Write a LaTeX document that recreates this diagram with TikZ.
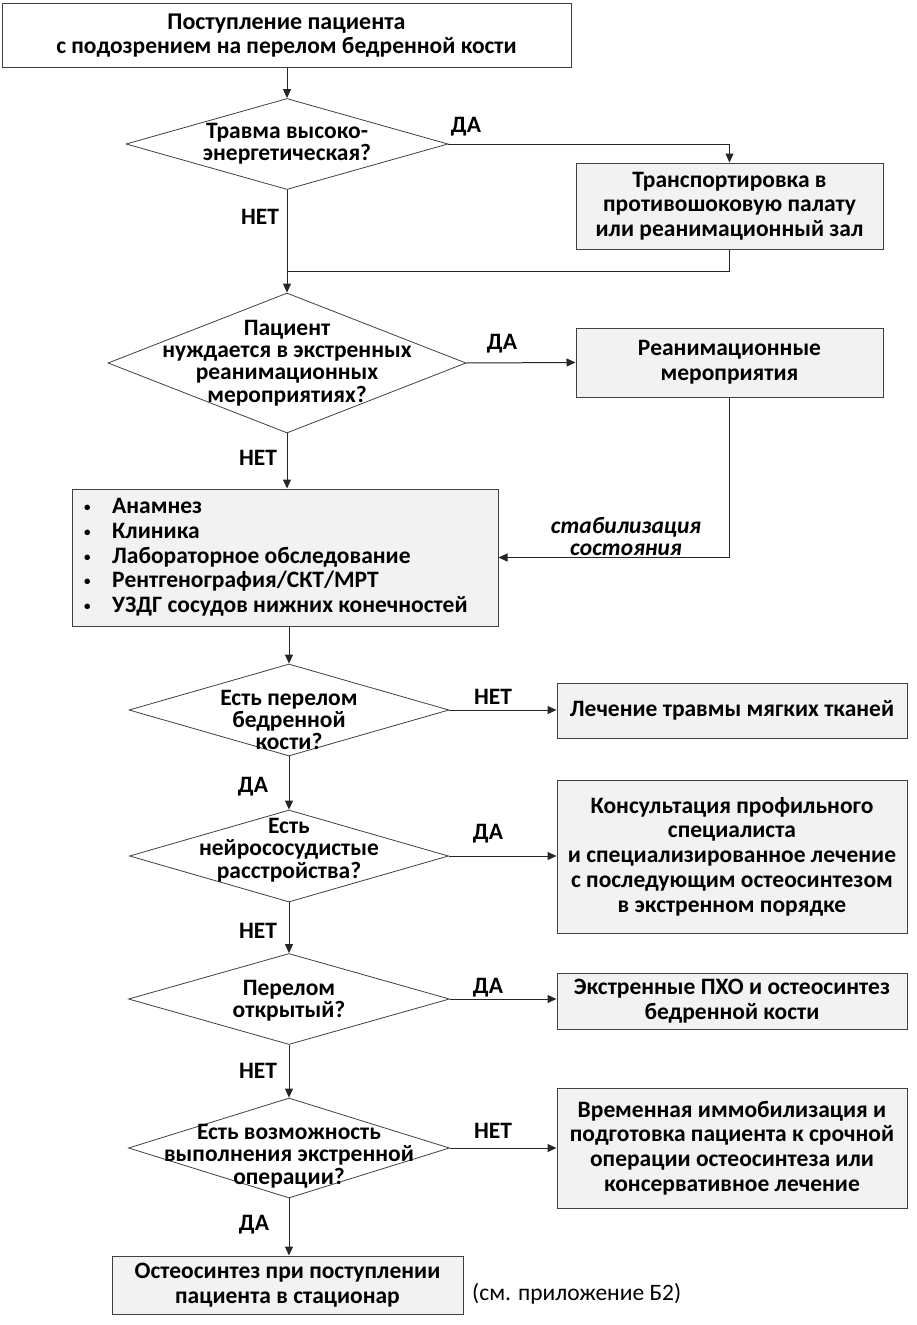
\documentclass[tikz,border=0pt]{standalone}
\usepackage{fontspec}
\setmainfont{Carlito}
\usetikzlibrary{arrows.meta,shapes.geometric}
\definecolor{boxfill}{HTML}{F2F2F2}
\definecolor{boxline}{HTML}{404040}
\tikzset{
  x=1pt, y=-1pt,
  every node/.style={font=\fontsize{23.5}{24.7}\selectfont\bfseries, align=center, inner sep=0pt},
  wbox/.style={draw=boxline, line width=1pt, fill=white, rectangle},
  gbox/.style={draw=boxline, line width=1pt, fill=boxfill, rectangle},
  dia/.style={draw=boxline, line width=0.8pt, diamond, fill=white},
  dtext/.style={font=\fontsize{23.5}{22.3}\selectfont\bfseries},
  lbl/.style={font=\fontsize{23.5}{22}\selectfont\bfseries},
  conn/.style={draw=black!85, line width=1pt},
  arr/.style={conn, -{Triangle[length=9pt,width=8pt]}},
}
\newcommand{\blt}{\makebox[28pt][l]{\fontsize{13}{13}\selectfont\raisebox{2pt}{\textbullet}}}
\begin{document}
\begin{tikzpicture}
\useasboundingbox (0,0) rectangle (917,1325);

% boxes
\node[wbox, minimum width=569, minimum height=64] (b1) at (286.5,35.5)
  {\fontsize{24}{23.5}\selectfont Поступление пациента\\с подозрением на перелом бедренной кости};
\node[gbox, minimum width=307, minimum height=86] (b2) at (729.5,206)
  {Транспортировка в\\противошоковую палату\\или реанимационный зал};
\node[gbox, minimum width=307, minimum height=69] (b3) at (729.5,362.5)
  {Реанимационные\\мероприятия};
\node[gbox, minimum width=426, minimum height=137] (b4) at (285,557.5) {};
\node[anchor=west, align=left, font=\fontsize{23.5}{24.7}\selectfont\bfseries] (b4t) at (84,557.5)
  {\blt Анамнез\\
   \blt Клиника\\
   \blt Лабораторное обследование\\
   \blt Рентгенография/СКТ/МРТ\\
   \blt УЗДГ сосудов нижних конечностей};
\node[gbox, minimum width=350, minimum height=55] (b5) at (732,710.5)
  {Лечение травмы мягких тканей};
\node[gbox, minimum width=350, minimum height=153] (b6) at (732,856.5)
  {Консультация профильного\\специалиста\\и специализированное лечение\\с последующим остеосинтезом\\в экстренном порядке};
\node[gbox, minimum width=350, minimum height=56] (b7) at (732,1001)
  {Экстренные ПХО и остеосинтез\\бедренной кости};
\node[gbox, minimum width=350, minimum height=120] (b8) at (732,1148)
  {Временная иммобилизация и\\подготовка пациента к срочной\\операции остеосинтеза или\\консервативное лечение};
\node[gbox, minimum width=351, minimum height=58] (b9) at (287.5,1285)
  {Остеосинтез при поступлении\\пациента в стационар};
\node[font=\fontsize{23.5}{22}\selectfont, anchor=west] (note) at (472,1294) {(см. приложение Б2)};

% diamonds
\node[dia, minimum width=322, minimum height=91] (d1) at (287,144) {};
\node[dtext] at ([yshift=0.5]d1.center) {Травма высоко-\\энергетическая?};
\node[dia, minimum width=358, minimum height=140] (d2) at (287,363) {};
\node[dtext] at (d2) {Пациент\\нуждается в экстренных\\реанимационных\\мероприятиях?};
\node[dia, minimum width=320, minimum height=92] (d3) at (289,710) {};
\node[dtext] at ([yshift=-10]d3.center) {Есть перелом\\бедренной\\кости?};
\node[dia, minimum width=319, minimum height=92] (d4) at (289,856) {};
\node[dtext] at ([yshift=6]d4.center) {Есть\\нейрососудистые\\расстройства?};
\node[dia, minimum width=321, minimum height=91] (d5) at (289,999) {};
\node[dtext] at ([yshift=-2]d5.center) {Перелом\\открытый?};
\node[dia, minimum width=321, minimum height=100] (d6) at (289,1148) {};
\node[dtext] at ([yshift=-8]d6.center) {Есть возможность\\выполнения экстренной\\операции?};

% connectors
\draw[arr] (b1.south -| d1.north) -- (d1.north);
\draw[arr] (d1.east) -| (b2.north);
\coordinate (j1) at (287,271);
\draw[arr] (d1.south) -- (d2.north);
\draw[conn] (b2.south) |- (j1);
\draw[arr] (d2.east) -- (b3.west);
\draw[arr] (d2.south) -- (d2.south |- b4.north);
\draw[arr] (b3.south) |- (b4.east);
\draw[arr] (b4.south -| d3.north) -- (d3.north);
\draw[arr] (d3.east) -- (d3.east -| b5.west);
\draw[arr] (d3.south) -- (d4.north);
\draw[arr] (d4.east) -- (d4.east -| b6.west);
\draw[arr] (d4.south) -- (d5.north);
\draw[arr] (d5.east) -- (d5.east -| b7.west);
\draw[arr] (d5.south) -- (d6.north);
\draw[arr] (d6.east) -- (d6.east -| b8.west);
\draw[arr] (d6.south) -- (d6.south |- b9.north);

% labels
\node[lbl] (l1) at (466,127) {ДА};
\node[lbl] (l2) at (260,217) {НЕТ};
\node[lbl] (l3) at (502,344) {ДА};
\node[lbl] (l4) at (258,458) {НЕТ};
\node[lbl, font=\fontsize{23.5}{22}\selectfont\bfseries\itshape] (l5) at (626,536) {стабилизация\\состояния};
\node[lbl] (l6) at (493,697) {НЕТ};
\node[lbl] (l7) at (253,787) {ДА};
\node[lbl] (l8) at (488,834) {ДА};
\node[lbl] (l9) at (258,931) {НЕТ};
\node[lbl] (l10) at (488,988) {ДА};
\node[lbl] (l11) at (258,1071) {НЕТ};
\node[lbl] (l12) at (493,1131) {НЕТ};
\node[lbl] (l13) at (254,1225) {ДА};
\end{tikzpicture}
\end{document}
